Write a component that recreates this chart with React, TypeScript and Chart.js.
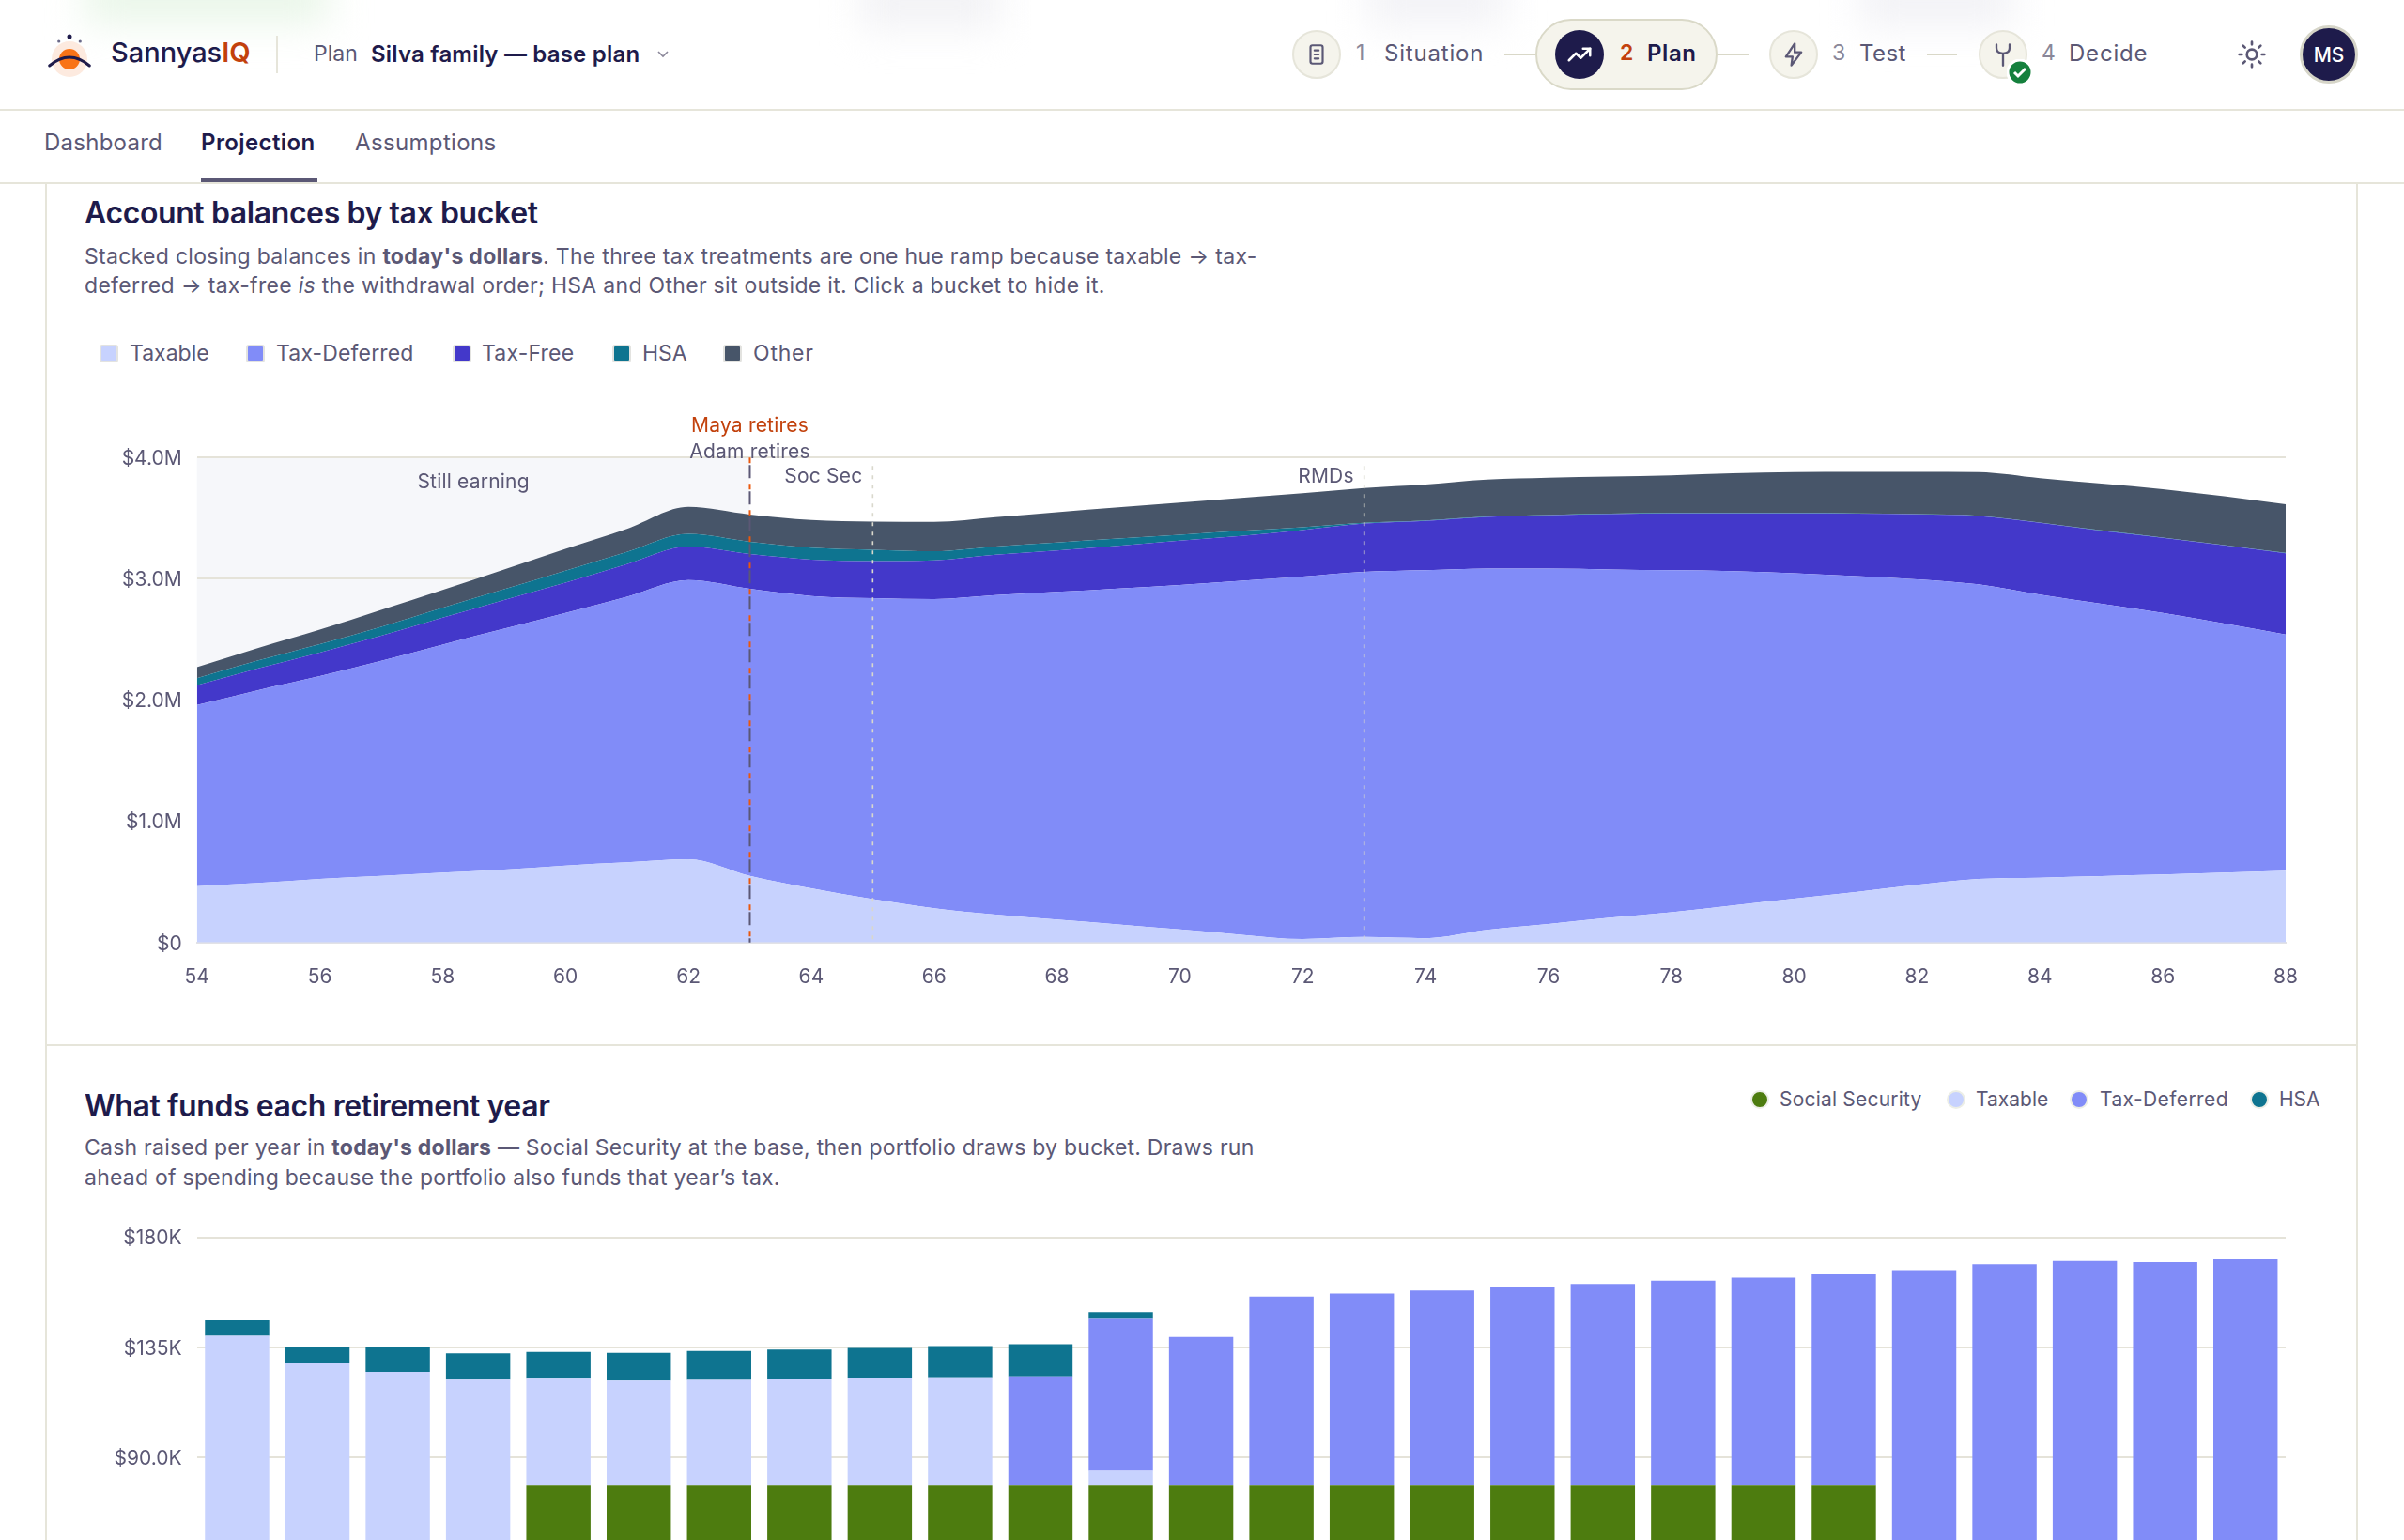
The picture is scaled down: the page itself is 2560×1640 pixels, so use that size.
import { useEffect, useRef, type CSSProperties, type ReactNode } from 'react';
import { Chart, registerables, type Plugin } from 'chart.js';

Chart.register(...registerables);

// ── Design tokens ──────────────────────────────────────────────────────────────

const C = {
  navy: '#1e1b4b',
  text: '#5b5875',
  faint: '#8a8799',
  line: '#e6e5da',
  grid: '#e5e3d9',
  pill: '#f5f4ec',
  orange: '#c2410c',
  taxable: '#c7d2fe',
  deferred: '#818cf8',
  free: '#4338ca',
  hsa: '#0e7490',
  other: '#475569',
  social: '#4d7c0f',
} as const;

const FONT = 'Inter, "Noto Sans", sans-serif';

// ── Balances chart data ($M, per bucket) ───────────────────────────────────────

const BALANCE_AGES = [
  54, 55, 56, 57, 58, 59, 60, 61, 62, 63, 64, 65, 66, 67, 68, 69, 70, 71,
  72, 73, 74, 75, 76, 77, 78, 79, 80, 81, 82, 83, 84, 85, 86, 87, 88,
];
const BAL_TAXABLE = [
  0.466, 0.492, 0.525, 0.551, 0.577, 0.603, 0.636, 0.662, 0.688, 0.551, 0.447, 0.359,
  0.284, 0.231, 0.19, 0.15, 0.108, 0.065, 0.029, 0.046, 0.036, 0.104, 0.153, 0.205,
  0.251, 0.306, 0.362, 0.417, 0.476, 0.525, 0.535, 0.548, 0.561, 0.577, 0.593,
];
const BAL_DEFERRED = [
  1.493, 1.59, 1.672, 1.773, 1.881, 1.985, 2.082, 2.19, 2.302, 2.367, 2.412, 2.481,
  2.549, 2.635, 2.702, 2.771, 2.842, 2.918, 2.99, 3.012, 3.035, 2.98, 2.931, 2.872,
  2.82, 2.758, 2.683, 2.605, 2.52, 2.429, 2.334, 2.246, 2.158, 2.054, 1.947,
];
const BAL_FREE = [
  0.163, 0.18, 0.195, 0.206, 0.221, 0.238, 0.251, 0.27, 0.277, 0.287, 0.3, 0.306,
  0.319, 0.332, 0.342, 0.352, 0.365, 0.371, 0.384, 0.398, 0.407, 0.427, 0.44, 0.457,
  0.469, 0.476, 0.495, 0.515, 0.535, 0.564, 0.593, 0.603, 0.619, 0.645, 0.671,
];
const BAL_HSA = [
  0.059, 0.065, 0.069, 0.074, 0.082, 0.088, 0.098, 0.1, 0.104, 0.101, 0.098, 0.094,
  0.075, 0.068, 0.065, 0.059, 0.049, 0.043, 0.023, 0.006, 0.004, 0.003, 0.003, 0.003,
  0.003, 0.003, 0.003, 0.003, 0.003, 0.003, 0.003, 0.003, 0.003, 0.003, 0.003,
];
const BAL_OTHER = [
  0.091, 0.104, 0.12, 0.14, 0.147, 0.163, 0.18, 0.19, 0.222, 0.224, 0.228, 0.232,
  0.242, 0.242, 0.251, 0.257, 0.264, 0.27, 0.281, 0.287, 0.296, 0.304, 0.307, 0.307,
  0.31, 0.327, 0.337, 0.343, 0.349, 0.359, 0.365, 0.385, 0.398, 0.401, 0.401,
];
const BAL_TICKS = ['$0', '$1.0M', '$2.0M', '$3.0M', '$4.0M'];

const RETIRE_AGE = 63;
const DOTTED_MARKERS = [
  { age: 65, label: 'Soc Sec' },
  { age: 73, label: 'RMDs' },
];

// ── Funding chart data ($K, per source) ────────────────────────────────────────

const FUND_AGES = [
  63, 64, 65, 66, 67, 68, 69, 70, 71, 72, 73, 74, 75, 76, 77, 78, 79, 80, 81, 82, 83, 84,
  85, 86, 87, 88,
];
const FUND_SOCIAL = [
  0, 0, 0, 0, 78.7, 78.7, 78.7, 78.7, 78.7, 78.7, 78.7, 78.7, 78.7, 78.7, 78.7, 78.7,
  78.7, 78.7, 78.7, 78.7, 78.7, 0, 0, 0, 0, 0,
];
const FUND_TAXABLE = [
  139.7, 128.6, 124.9, 121.7, 43.4, 42.6, 42.9, 43.1, 43.5, 44.0, 0, 6.0, 0, 0, 0, 0, 0,
  0, 0, 0, 0, 0, 0, 0, 0, 0,
];
const FUND_DEFERRED = [
  0, 0, 0, 0, 0, 0, 0, 0, 0, 0, 44.4, 61.9, 60.5, 77.0, 78.3, 79.5, 80.8, 82.2, 83.6,
  84.8, 86.2, 166.2, 169.0, 170.3, 169.9, 171.0,
];
const FUND_HSA = [
  6.3, 6.3, 10.4, 10.8, 11.0, 11.4, 11.8, 12.2, 12.5, 12.8, 13.1, 2.8, 0, 0, 0, 0, 0, 0,
  0, 0, 0, 0, 0, 0, 0, 0,
];
const FUND_TICKS: Record<number, string> = { 0: '$0', 45: '$45.0K', 90: '$90.0K', 135: '$135K', 180: '$180K' };

// ── Small layout helpers ───────────────────────────────────────────────────────

function Txt({ x, y, size = 23, weight = 400, color = C.text, children, style }: {
  x: number; y: number; size?: number; weight?: number; color?: string; children: ReactNode; style?: CSSProperties;
}) {
  return (
    <div style={{
      position: 'absolute', left: x, top: y, transform: 'translateY(-50%)',
      fontSize: size, fontWeight: weight, color, lineHeight: 1.2, whiteSpace: 'nowrap', fontFamily: FONT, ...style,
    }}>
      {children}
    </div>
  );
}

function Box({ x, y, w, h, style }: { x: number; y: number; w: number; h: number; style?: CSSProperties }) {
  return <div style={{ position: 'absolute', left: x, top: y, width: w, height: h, ...style }} />;
}

function Blur({ x, w, h, color }: { x: number; w: number; h: number; color: string }) {
  return <Box x={x} y={-30} w={w} h={h + 30} style={{ background: color, filter: 'blur(20px)' }} />;
}

function StepCircle({ cx, children }: { cx: number; children: ReactNode }) {
  return (
    <div style={{
      position: 'absolute', left: cx - 26, top: 32, width: 52, height: 52, borderRadius: '50%', boxSizing: 'border-box',
      background: C.pill, border: `2px solid ${C.line}`, display: 'flex', alignItems: 'center', justifyContent: 'center',
    }}>
      {children}
    </div>
  );
}

function Icon({ size = 28, color = C.text, width = 2, children }: { size?: number; color?: string; width?: number; children: ReactNode }) {
  return (
    <svg width={size} height={size} viewBox="0 0 24 24" fill="none" stroke={color} strokeWidth={width} strokeLinecap="round" strokeLinejoin="round">
      {children}
    </svg>
  );
}

// ── Charts ─────────────────────────────────────────────────────────────────────

const lifeEvents: Plugin<'line'> = {
  id: 'lifeEvents',
  beforeDraw(chart) {
    const { ctx, chartArea, scales } = chart;
    const xr = scales.x.getPixelForValue(BALANCE_AGES.indexOf(RETIRE_AGE));
    ctx.save();
    ctx.fillStyle = '#f6f7fa';
    ctx.fillRect(chartArea.left, chartArea.top, xr - chartArea.left, chartArea.height);
    ctx.restore();
  },
  afterDatasetsDraw(chart) {
    const { ctx, chartArea, scales } = chart;
    const xr = scales.x.getPixelForValue(BALANCE_AGES.indexOf(RETIRE_AGE));
    const { top, bottom, left } = chartArea;
    ctx.save();
    ctx.lineWidth = 1.6;

    DOTTED_MARKERS.forEach((m) => {
      const x = scales.x.getPixelForValue(BALANCE_AGES.indexOf(m.age));
      ctx.strokeStyle = '#d9d8cc';
      ctx.setLineDash([4, 6]);
      ctx.beginPath();
      ctx.moveTo(x, top + 9);
      ctx.lineTo(x, bottom);
      ctx.stroke();
    });

    // two retirements on the same age: the dashes of both lines interleave
    ctx.lineWidth = 2;
    ctx.setLineDash([14, 14]);
    ctx.lineDashOffset = -8;
    ctx.strokeStyle = C.text;
    ctx.beginPath();
    ctx.moveTo(xr, top);
    ctx.lineTo(xr, bottom);
    ctx.stroke();
    ctx.setLineDash([6, 22]);
    ctx.lineDashOffset = 0;
    ctx.strokeStyle = '#ea580c';
    ctx.beginPath();
    ctx.moveTo(xr, top);
    ctx.lineTo(xr, bottom);
    ctx.stroke();
    ctx.setLineDash([]);

    ctx.font = `21px ${FONT}`;
    ctx.letterSpacing = '0.2px';
    ctx.textBaseline = 'middle';
    ctx.textAlign = 'center';
    ctx.fillStyle = C.orange;
    ctx.fillText('Maya retires', xr, top - 34);
    ctx.fillStyle = C.text;
    ctx.fillText('Adam retires', xr, top - 6);
    ctx.fillText('Still earning', (left + xr) / 2, top + 26);
    ctx.textAlign = 'right';
    DOTTED_MARKERS.forEach((m) => {
      ctx.fillText(m.label, scales.x.getPixelForValue(BALANCE_AGES.indexOf(m.age)) - 11, top + 20);
    });
    ctx.restore();
  },
};

function BalancesChart() {
  const ref = useRef<HTMLCanvasElement>(null);
  useEffect(() => {
    if (!ref.current) return;
    const area = (label: string, data: number[], color: string, first = false) => ({
      label, data, backgroundColor: color, borderColor: color, borderWidth: 0, pointRadius: 0,
      fill: first ? 'origin' : '-1', cubicInterpolationMode: 'monotone' as const,
    });
    const chart = new Chart(ref.current, {
      type: 'line',
      data: {
        labels: BALANCE_AGES,
        datasets: [
          area('Taxable', BAL_TAXABLE, C.taxable, true),
          area('Tax-Deferred', BAL_DEFERRED, C.deferred),
          area('Tax-Free', BAL_FREE, C.free),
          area('HSA', BAL_HSA, C.hsa),
          area('Other', BAL_OTHER, C.other),
        ],
      },
      options: {
        responsive: false,
        animation: false,
        layout: { padding: { top: 67.3, right: 66 } },
        plugins: { legend: { display: false }, tooltip: { enabled: false } },
        scales: {
          x: {
            offset: false,
            afterFit: (s) => { s.height = 76.2; },
            grid: { display: false },
            border: { color: '#e2e2e6', width: 2 },
            ticks: {
              autoSkip: false, maxRotation: 0, padding: 16, color: C.text, font: { family: FONT, size: 21 },
              callback: (_v, i) => (i % 2 === 0 ? String(BALANCE_AGES[i]) : ''),
            },
          },
          y: {
            stacked: true,
            min: 0,
            max: 4,
            afterFit: (s) => { s.width = 109.7; },
            grid: { color: C.grid, lineWidth: 2, drawTicks: false },
            border: { display: false },
            ticks: {
              stepSize: 1, padding: 16, labelOffset: 1.5, color: C.text, font: { family: FONT, size: 21 },
              callback: (v) => BAL_TICKS[Number(v)],
            },
          },
        },
      },
      plugins: [lifeEvents],
    });
    return () => chart.destroy();
  }, []);
  return <canvas ref={ref} width={2400} height={660} style={{ position: 'absolute', left: 100, top: 420, width: 2400, height: 660 }} />;
}

function FundingChart() {
  const ref = useRef<HTMLCanvasElement>(null);
  useEffect(() => {
    if (!ref.current) return;
    const chart = new Chart(ref.current, {
      type: 'bar',
      data: {
        labels: FUND_AGES,
        datasets: [
          { label: 'Social Security', data: FUND_SOCIAL, backgroundColor: C.social },
          { label: 'Taxable', data: FUND_TAXABLE, backgroundColor: C.taxable },
          { label: 'Tax-Deferred', data: FUND_DEFERRED, backgroundColor: C.deferred },
          { label: 'HSA', data: FUND_HSA, backgroundColor: C.hsa },
        ],
      },
      options: {
        responsive: false,
        animation: false,
        layout: { padding: { top: 37.6, right: 66 } },
        datasets: { bar: { barPercentage: 0.8, categoryPercentage: 1 } },
        plugins: { legend: { display: false }, tooltip: { enabled: false } },
        scales: {
          x: {
            stacked: true,
            afterFit: (s) => { s.height = 94; },
            grid: { display: false },
            border: { color: '#e2e2e6', width: 2 },
            ticks: { maxRotation: 0, padding: 16, color: C.text, font: { family: FONT, size: 21 } },
          },
          y: {
            stacked: true,
            min: 0,
            max: 180,
            afterFit: (s) => { s.width = 109.7; },
            grid: { color: C.grid, lineWidth: 2, drawTicks: false },
            border: { display: false },
            ticks: {
              stepSize: 45, padding: 16, labelOffset: 1.5, color: C.text, font: { family: FONT, size: 21 },
              callback: (v) => FUND_TICKS[Number(v)],
            },
          },
        },
      },
    });
    return () => chart.destroy();
  }, []);
  return <canvas ref={ref} width={2400} height={600} style={{ position: 'absolute', left: 100, top: 1280, width: 2400, height: 600 }} />;
}

// ── Page chrome ────────────────────────────────────────────────────────────────

function Header() {
  return (
    <>
      <Blur x={90} w={260} h={24} color="#e9f6e8" />
      <Blur x={915} w={150} h={30} color="#f2f2f5" />
      <Blur x={1455} w={150} h={26} color="#f2f2f6" />
      <Blur x={1980} w={165} h={28} color="#f2f2f6" />

      {/* logo */}
      <svg width={70} height={60} viewBox="0 0 70 60" style={{ position: 'absolute', left: 40, top: 30 }}>
        <circle cx={34} cy={33} r={19} fill="#fdeadf" />
        <circle cx={34} cy={33} r={11} fill="#f97316" />
        <path d="M12.7 40 Q34 22 55.3 40" stroke={C.navy} strokeWidth={3} strokeLinecap="round" fill="none" />
        <circle cx={34} cy={9} r={2.5} fill={C.navy} />
        <circle cx={22.7} cy={14} r={1.6} fill="#6b6a8a" />
        <circle cx={45.3} cy={14} r={1.6} fill="#6b6a8a" />
      </svg>
      <Txt x={118} y={56} size={29} weight={500} color={C.navy}>
        Sannyas<span style={{ color: C.orange, fontWeight: 600 }}>IQ</span>
      </Txt>
      <Box x={294} y={38} w={2} h={40} style={{ background: C.line }} />
      <Txt x={334} y={58} size={23}>Plan</Txt>
      <Txt x={395} y={58} size={24} weight={600} color={C.navy} style={{ letterSpacing: 0.2 }}>Silva family — base plan</Txt>
      <svg width={16} height={12} viewBox="0 0 16 12" style={{ position: 'absolute', left: 698, top: 52 }}>
        <path d="M3 3 L8 8 L13 3" fill="none" stroke={C.faint} strokeWidth={1.6} />
      </svg>

      {/* stepper */}
      <StepCircle cx={1402}>
        <Icon size={26}>
          <rect x={6} y={3} width={12} height={18} rx={2} />
          <path d="M10 8h4M10 12h4M10 16h4" />
        </Icon>
      </StepCircle>
      <Txt x={1444} y={57} size={23} color={C.faint}>1</Txt>
      <Txt x={1474} y={57} size={24} style={{ letterSpacing: 0.8 }}>Situation</Txt>
      <Box x={1602} y={57} w={33} h={2} style={{ background: '#d9d8c8' }} />

      <Box x={1635} y={20} w={194} h={76} style={{ background: C.pill, border: '2px solid #dad9c8', borderRadius: 38, boxSizing: 'border-box' }} />
      <div style={{
        position: 'absolute', left: 1656, top: 32, width: 52, height: 52, borderRadius: '50%', background: C.navy,
        display: 'flex', alignItems: 'center', justifyContent: 'center',
      }}>
        <Icon size={30} color="#fff">
          <path d="M3 17 L9 11 L13 15 L21 7" />
          <path d="M15 7 h6 v6" />
        </Icon>
      </div>
      <Txt x={1725} y={57} size={23} weight={600} color={C.orange}>2</Txt>
      <Txt x={1754} y={57} size={24} weight={600} color={C.navy} style={{ letterSpacing: 0.6 }}>Plan</Txt>
      <Box x={1829} y={57} w={33} h={2} style={{ background: '#d9d8c8' }} />

      <StepCircle cx={1910}>
        <Icon size={28}><path d="M13 2 L5 14 h6 l-1 8 L19 10 h-6 z" /></Icon>
      </StepCircle>
      <Txt x={1951} y={57} size={23} color={C.faint}>3</Txt>
      <Txt x={1980} y={57} size={24} style={{ letterSpacing: 0.4 }}>Test</Txt>
      <Box x={2052} y={57} w={32} h={2} style={{ background: '#d9d8c8' }} />

      <StepCircle cx={2133}>
        <Icon size={28}>
          <path d="M12 22 V11 M6 3 v3 q0 5 6 5 q6 0 6-5 V3" />
        </Icon>
      </StepCircle>
      <svg width={28} height={28} viewBox="0 0 28 28" style={{ position: 'absolute', left: 2137, top: 63 }}>
        <circle cx={14} cy={14} r={13} fill="#15803d" stroke="#fff" strokeWidth={3} />
        <path d="M8 14 l4 4 l8-8" fill="none" stroke="#fff" strokeWidth={3} />
      </svg>
      <Txt x={2174} y={57} size={23} color={C.faint}>4</Txt>
      <Txt x={2203} y={57} size={24} style={{ letterSpacing: 0.8 }}>Decide</Txt>

      <div style={{ position: 'absolute', left: 2382, top: 42 }}>
        <Icon size={32}>
          <circle cx={12} cy={12} r={4} />
          <path d="M12 2v2M12 20v2M2 12h2M20 12h2M5 5l1.5 1.5M17.5 17.5L19 19M5 19l1.5-1.5M17.5 6.5L19 5" />
        </Icon>
      </div>
      <div style={{
        position: 'absolute', left: 2449, top: 27, width: 62, height: 62, borderRadius: '50%', background: C.navy, boxSizing: 'border-box',
        border: '3px solid #d6d5c8', color: '#fff', fontFamily: FONT, fontSize: 21, fontWeight: 500,
        display: 'flex', alignItems: 'center', justifyContent: 'center',
      }}>
        MS
      </div>

      <Box x={0} y={116} w={2560} h={2} style={{ background: C.line }} />

      {/* tabs */}
      <Txt x={47} y={152} size={24} style={{ letterSpacing: 0.25 }}>Dashboard</Txt>
      <Txt x={214} y={152} size={24} weight={600} color={C.navy} style={{ letterSpacing: 0.4 }}>Projection</Txt>
      <Txt x={378} y={152} size={24} style={{ letterSpacing: 0.35 }}>Assumptions</Txt>
      <Box x={214} y={190} w={124} h={4} style={{ background: C.text }} />
      <Box x={0} y={194} w={2560} h={2} style={{ background: C.line }} />
    </>
  );
}

function Swatch({ x, color }: { x: number; color: string }) {
  return <Box x={x} y={367} w={20} h={19} style={{ background: color, border: '2px solid #e3e3e0', borderRadius: 3, boxSizing: 'border-box' }} />;
}

function Dot({ x, color }: { x: number; color: string }) {
  return <Box x={x} y={1161} w={20} h={20} style={{ background: color, border: '2px solid #eceee6', borderRadius: '50%', boxSizing: 'border-box' }} />;
}

export default function App() {
  return (
    <div style={{ position: 'fixed', inset: 0, width: 2560, height: 1640, overflow: 'hidden', background: '#fff', fontFamily: FONT }}>
      <Header />

      {/* card frame */}
      <Box x={48} y={196} w={2} h={1444} style={{ background: C.line }} />
      <Box x={2509} y={196} w={2} h={1444} style={{ background: C.line }} />
      <Box x={48} y={1112} w={2463} h={2} style={{ background: C.line }} />

      {/* balances section */}
      <Txt x={90} y={227} size={32} weight={600} color={C.navy} style={{ letterSpacing: -0.4 }}>Account balances by tax bucket</Txt>
      <Txt x={90} y={273.5} size={23} style={{ letterSpacing: 0.3 }}>
        Stacked closing balances in <b>today's dollars</b>. The three tax treatments are one hue ramp because taxable → tax-
      </Txt>
      <Txt x={90} y={305} size={23} style={{ letterSpacing: 0.3 }}>
        deferred → tax-free <i>is</i> the withdrawal order; HSA and Other sit outside it. Click a bucket to hide it.
      </Txt>

      <Swatch x={106} color={C.taxable} />
      <Txt x={138} y={377} size={23}>Taxable</Txt>
      <Swatch x={262} color={C.deferred} />
      <Txt x={294} y={377} size={23} style={{ letterSpacing: 0.15 }}>Tax-Deferred</Txt>
      <Swatch x={482} color={C.free} />
      <Txt x={513} y={377} size={23} style={{ letterSpacing: 0.2 }}>Tax-Free</Txt>
      <Swatch x={652} color={C.hsa} />
      <Txt x={684} y={377} size={23}>HSA</Txt>
      <Swatch x={770} color={C.other} />
      <Txt x={802} y={377} size={23} style={{ letterSpacing: 0.8 }}>Other</Txt>

      <BalancesChart />

      {/* funding section */}
      <Txt x={90} y={1178} size={32} weight={600} color={C.navy} style={{ letterSpacing: -0.4 }}>What funds each retirement year</Txt>
      <Txt x={90} y={1223} size={23} style={{ letterSpacing: 0.24 }}>
        Cash raised per year in <b>today's dollars</b> — Social Security at the base, then portfolio draws by bucket. Draws run
      </Txt>
      <Txt x={90} y={1255} size={23} style={{ letterSpacing: 0.24 }}>
        ahead of spending because the portfolio also funds that year’s tax.
      </Txt>

      <Dot x={1864} color={C.social} />
      <Txt x={1895} y={1171} size={21} style={{ letterSpacing: 0.2 }}>Social Security</Txt>
      <Dot x={2073} color={C.taxable} />
      <Txt x={2104} y={1171} size={21}>Taxable</Txt>
      <Dot x={2204} color={C.deferred} />
      <Txt x={2236} y={1171} size={21} style={{ letterSpacing: 0.4 }}>Tax-Deferred</Txt>
      <Dot x={2396} color={C.hsa} />
      <Txt x={2427} y={1171} size={21}>HSA</Txt>

      <FundingChart />
    </div>
  );
}
